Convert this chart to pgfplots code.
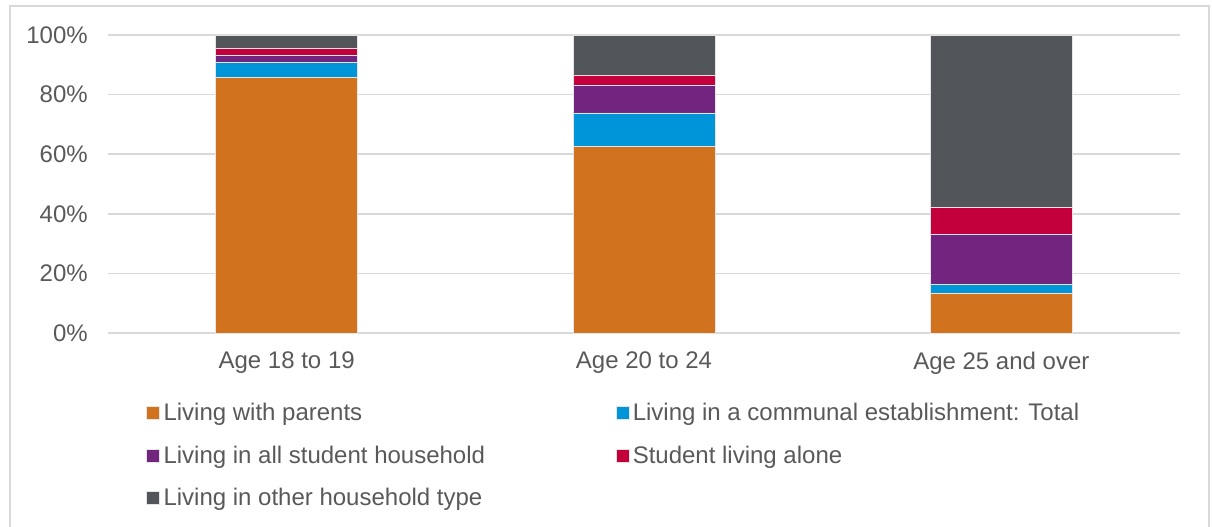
\documentclass[border=0pt]{standalone}
\usepackage{pgfplots}
\pgfplotsset{compat=1.18}
\usepackage{fontspec}
\setmainfont{Liberation Sans}

\definecolor{cParents}{HTML}{D0721E}
\definecolor{cCommunal}{HTML}{0095D8}
\definecolor{cAllStudent}{HTML}{72257E}
\definecolor{cAlone}{HTML}{C3003C}
\definecolor{cOther}{HTML}{52565A}
\definecolor{gridgray}{HTML}{D9D9D9}
\definecolor{labelgray}{HTML}{595959}

\newcommand{\chartfont}{\fontsize{18}{21}\selectfont}

\begin{document}
\begin{tikzpicture}
\useasboundingbox (0pt,0pt) rectangle (909pt,394.5pt);
% outer chart frame (bottom edge is cut off in the original)
\draw[gridgray, line width=1pt] (7.5pt,-3pt) -- (7.5pt,390pt) -- (906.75pt,390pt) -- (906.75pt,-3pt);
\begin{axis}[
    at={(81pt,144.75pt)}, anchor=south west,
    scale only axis, width=804pt, height=223.5pt,
    ybar stacked, bar width=106.5pt,
    xmin=-0.5, xmax=2.5, ymin=0, ymax=100,
    xtick={0,1,2},
    xticklabels={Age 18 to 19, Age 20 to 24, Age 25 and over},
    ytick={0,20,...,100},
    yticklabels={0\%,20\%,40\%,60\%,80\%,100\%},
    axis line style={draw=none}, major tick length=0pt,
    ymajorgrids, grid style={gridgray, line width=1.2pt},
    tick label style={font=\chartfont, text=labelgray, inner sep=0pt},
    xticklabel style={anchor=north, yshift=-14pt},
    yticklabel style={anchor=east, xshift=-15pt},
    legend columns=2,
    legend cell align=left,
    legend style={draw=none, fill=none, font=\chartfont, text=labelgray,
        at={(0.0317,-0.2265)}, anchor=north west,
        nodes={inner sep=0pt}, row sep=17.3pt,
        /tikz/every odd column/.append style={column sep=2.8pt}},
    legend image code/.code={\fill[#1] (0pt,-4.9pt) rectangle (9.75pt,4.9pt);},
    every axis plot/.append style={draw=white!80!gray, line width=0.4pt},
]
\addplot[fill=cParents] coordinates {(0,85.8) (1,62.5) (2,13.5)};
\addplot[fill=cCommunal] coordinates {(0,5.1) (1,11.4) (2,2.8)};
\addplot[fill=cAllStudent] coordinates {(0,2.3) (1,9.4) (2,16.8)};
\addplot[fill=cAlone] coordinates {(0,2.3) (1,3.3) (2,9.1)};
\addplot[fill=cOther] coordinates {(0,4.5) (1,13.4) (2,57.8)};
\legend{\makebox[339pt][l]{Living with parents},
    Living in a communal establishment: Total,
    \makebox[339pt][l]{Living in all student household},
    Student living alone,
    \makebox[339pt][l]{Living in other household type}}
\end{axis}
\end{tikzpicture}
\end{document}
